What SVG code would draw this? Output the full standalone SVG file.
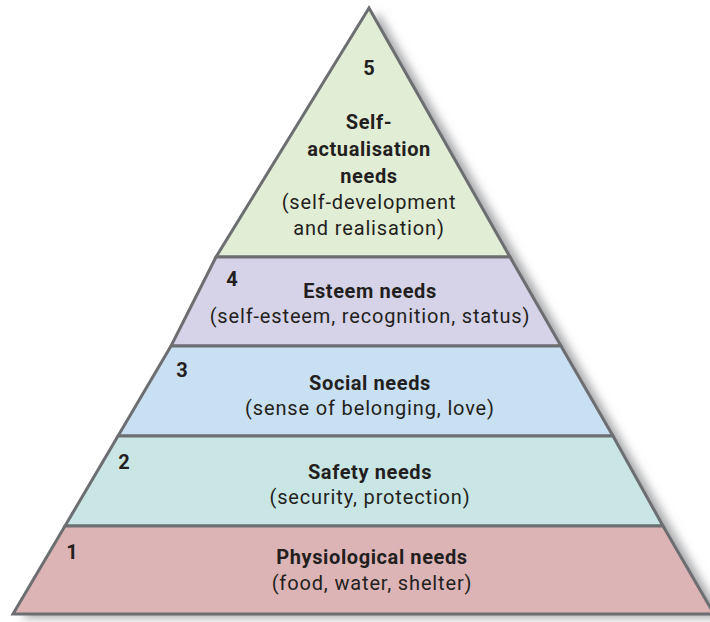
<svg xmlns="http://www.w3.org/2000/svg" width="710" height="622" viewBox="0 0 710 622">
<defs>
<filter id="sh" x="-10%" y="-10%" width="130%" height="130%">
<feGaussianBlur in="SourceAlpha" stdDeviation="5"/>
<feOffset dx="9" dy="4" result="b"/>
<feFlood flood-color="#808285" flood-opacity="0.7"/>
<feComposite in2="b" operator="in"/>
<feMerge><feMergeNode/><feMergeNode in="SourceGraphic"/></feMerge>
</filter>
</defs>
<style>
.lay{stroke:#6d6e71;stroke-width:3;stroke-linejoin:miter}
text{font-family:Roboto,"Liberation Sans",sans-serif;fill:#231f20;text-anchor:middle}
.b{font-weight:bold;font-size:20px;letter-spacing:0.6px}
.n{font-weight:bold;font-size:20px}
.r{font-size:20px;letter-spacing:0.85px}
</style>
<polygon points="369,8 13,614 714,614" fill="#fff" filter="url(#sh)"/>
<g id="layer5">
<polygon class="lay" points="369,8 216,257 510,257" fill="#e2edd5"/>
<text class="n" x="369" y="75">5</text>
<text class="b" x="369" y="129">Self-</text>
<text class="b" x="369" y="156">actualisation</text>
<text class="b" x="369" y="183">needs</text>
<text class="r" x="369" y="209">(self-development</text>
<text class="r" x="369" y="235">and realisation)</text>
</g>
<g id="layer4">
<polygon class="lay" points="216,257 510,257 561,346 171,346" fill="#d6d3e8"/>
<text class="n" x="232" y="286">4</text>
<text class="b" x="370" y="298">Esteem needs</text>
<text class="r" x="370" y="323">(self-esteem, recognition, status)</text>
</g>
<g id="layer3">
<polygon class="lay" points="171,346 561,346 613,436 118,436" fill="#c9dff2"/>
<text class="n" x="182" y="377">3</text>
<text class="b" x="370" y="390">Social needs</text>
<text class="r" x="370" y="415">(sense of belonging, love)</text>
</g>
<g id="layer2">
<polygon class="lay" points="118,436 613,436 663,526 65,526" fill="#c9e6e5"/>
<text class="n" x="124" y="469">2</text>
<text class="b" x="370" y="479">Safety needs</text>
<text class="r" x="370" y="504">(security, protection)</text>
</g>
<g id="layer1">
<polygon class="lay" points="65,526 663,526 714,614 13,614" fill="#dcb4b6"/>
<text class="n" x="72" y="559">1</text>
<text class="b" x="372" y="564">Physiological needs</text>
<text class="r" x="372" y="590">(food, water, shelter)</text>
</g>
<g id="connectors"/>
</svg>
